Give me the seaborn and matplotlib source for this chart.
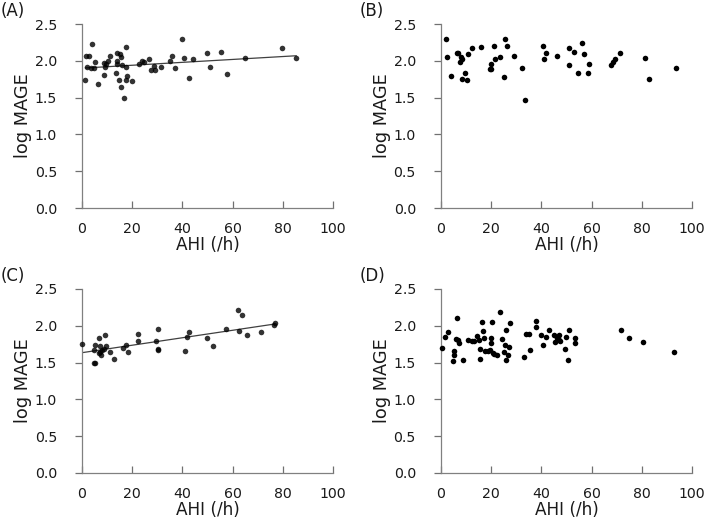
import numpy as np
import pandas as pd
import matplotlib
matplotlib.use("Agg")
import matplotlib.pyplot as plt
import seaborn as sns

# Panel A
a_ahi = [1.3, 1.7, 2.8, 2.0, 4.0, 3.4, 4.6, 5.3, 6.4, 8.6, 8.9, 9.3, 9.5, 10.2, 11.3,
         13.4, 13.8, 13.8, 13.8, 14.6, 15.2, 15.4, 15.8, 15.6, 16.8, 17.4, 17.4, 17.4,
         18.0, 19.9, 22.8, 24.1, 24.6, 26.8, 27.4, 28.6, 29.0, 31.4, 35.0, 35.9, 37.1,
         39.7, 40.7, 42.5, 44.1, 49.8, 51.0, 55.4, 57.9, 64.9, 79.5, 85.4]
a_mage = [1.74, 2.06, 2.07, 1.92, 2.23, 1.90, 1.90, 1.99, 1.68, 1.97, 1.81, 1.91, 1.95, 2.00, 2.06,
          1.84, 2.10, 2.00, 1.95, 1.74, 2.09, 2.05, 1.94, 1.65, 1.49, 2.19, 1.91, 1.74,
          1.80, 1.72, 1.96, 2.00, 1.98, 2.03, 1.88, 1.93, 1.88, 1.92, 2.00, 2.07, 1.90,
          2.30, 2.04, 1.76, 2.03, 2.10, 1.91, 2.12, 1.82, 2.04, 2.18, 2.04]

# Panel B
b_ahi = [2.0, 2.4, 4.1, 6.5, 6.9, 7.6, 7.8, 8.4, 8.2, 9.4, 10.4, 10.9, 12.5, 16.1, 19.7,
         19.9, 20.1, 21.0, 21.6, 23.4, 25.2, 25.6, 26.4, 29.2, 32.1, 33.5, 40.8, 41.0,
         41.7, 46.2, 51.1, 51.1, 53.0, 54.4, 56.0, 57.1, 58.4, 59.1, 67.9, 68.7, 69.3,
         71.2, 81.3, 82.9, 93.5]
b_mage = [2.29, 2.05, 1.80, 2.11, 2.10, 1.98, 2.05, 2.03, 1.75, 1.83, 1.74, 2.09, 2.17, 2.19, 1.89,
          1.89, 1.96, 2.20, 2.02, 2.05, 1.78, 2.29, 2.20, 2.06, 1.90, 1.47, 2.20, 2.02,
          2.10, 2.07, 2.18, 1.94, 2.12, 1.83, 2.24, 2.09, 1.83, 1.95, 1.94, 1.99, 2.02,
          2.10, 2.04, 1.75, 1.90]

# Panel C
c_ahi = [0.1, 4.6, 5.2, 4.8, 5.3, 6.8, 7.3, 7.2, 7.7, 6.9, 8.0, 8.7, 9.1, 9.7, 11.0,
         12.8, 16.2, 17.5, 18.4, 22.5, 22.5, 29.5, 30.2, 30.3, 30.2, 41.1, 42.0, 42.6,
         49.7, 52.0, 57.2, 62.3, 63.6, 62.6, 65.7, 71.5, 76.4, 76.7]
c_mage = [1.75, 1.67, 1.74, 1.50, 1.50, 1.83, 1.72, 1.65, 1.61, 1.63, 1.67, 1.68, 1.87, 1.73, 1.65,
          1.55, 1.70, 1.74, 1.64, 1.89, 1.80, 1.80, 1.96, 1.69, 1.67, 1.66, 1.85, 1.91,
          1.83, 1.72, 1.95, 2.21, 2.15, 1.93, 1.87, 1.91, 2.01, 2.04]

# Panel D
d_ahi = [0.5, 1.6, 2.7, 4.8, 5.0, 5.3, 6.4, 6.0, 6.6, 7.3, 8.8, 10.6, 12.4, 13.0, 14.2,
         15.0, 15.5, 15.4, 16.5, 16.9, 17.3, 17.7, 18.6, 19.5, 19.8, 20.0, 20.3, 20.7,
         21.3, 22.3, 23.4, 24.3, 25.0, 25.6, 25.9, 26.0, 26.7, 27.0, 27.6, 32.9, 34.0,
         34.9, 35.6, 37.7, 38.0, 39.8, 40.5, 41.7, 43.2, 44.9, 45.6, 46.1, 46.9, 47.0,
         47.6, 49.4, 49.7, 50.5, 51.1, 53.3, 53.3, 71.8, 74.9, 80.3, 92.7]
d_mage = [1.70, 1.85, 1.91, 1.52, 1.66, 1.61, 2.10, 1.82, 1.81, 1.77, 1.53, 1.81, 1.79, 1.80, 1.86,
          1.81, 1.68, 1.55, 2.05, 1.93, 1.83, 1.66, 1.66, 1.67, 1.76, 1.84, 2.05, 1.63,
          1.62, 1.61, 2.19, 1.82, 1.64, 1.74, 1.94, 1.53, 1.60, 1.71, 2.04, 1.57, 1.89,
          1.89, 1.67, 1.99, 2.06, 1.87, 1.74, 1.85, 1.94, 1.88, 1.78, 1.83, 1.87, 1.81,
          1.79, 1.68, 1.85, 1.53, 1.94, 1.84, 1.76, 1.94, 1.83, 1.78, 1.64]

panel_labels = ["(A)", "(B)", "(C)", "(D)"]
x_ticks = [0, 20, 40, 60, 80, 100]
y_ticks = [0.0, 0.5, 1.0, 1.5, 2.0, 2.5]
x_label = "AHI (/h)"
y_label = "log MAGE"

sns.set_theme(style="white")
plt.rcParams['font.family'] = ['DejaVu Sans']

fig = plt.figure(figsize=(7.06, 5.28), dpi=100)
W, H = 706, 528
def ax_at(left, top, right, bottom):
    return fig.add_axes([left / W, 1 - bottom / H, (right - left) / W, (bottom - top) / H])

axes = [ax_at(82, 24, 333, 208), ax_at(441, 24, 692, 208),
        ax_at(82, 289, 333, 473), ax_at(441, 289, 692, 473)]
data = [(a_ahi, a_mage, True), (b_ahi, b_mage, False), (c_ahi, c_mage, True), (d_ahi, d_mage, False)]
label_pos = [(1, 11), (360, 11), (1, 276), (360, 276)]

spine_col = "#808080"
txt_col = "#1a1a1a"
for ax, (x, y, fit), lab, (lx, ly) in zip(axes, data, panel_labels, label_pos):
    df = pd.DataFrame({"AHI": x, "MAGE": y})
    if fit:
        sns.regplot(data=df, x="AHI", y="MAGE", ax=ax, ci=None, truncate=True,
                    scatter_kws=dict(s=16, color="black", linewidths=0, clip_on=False, zorder=3),
                    line_kws=dict(color="#404040", lw=0.9))
    else:
        sns.scatterplot(data=df, x="AHI", y="MAGE", ax=ax, s=16, color="black",
                        linewidth=0, clip_on=False, zorder=3)
    ax.set_xlim(0, 100)
    ax.set_ylim(0, 2.5)
    ax.set_xticks(x_ticks)
    ax.set_yticks(y_ticks)
    ax.set_yticklabels([f"{v:.1f}" for v in y_ticks])
    ax.set_xlabel(x_label, fontsize=12.2, color=txt_col, labelpad=0)
    ax.set_ylabel(y_label, fontsize=12.8, color=txt_col, labelpad=2)
    ax.tick_params(axis="x", bottom=True, direction="in", length=5, width=0.9, color="#707070",
                   labelsize=10.2, labelcolor=txt_col, pad=10)
    ax.tick_params(axis="y", left=True, direction="out", length=5, width=0.9, color="#707070",
                   labelsize=10.2, labelcolor=txt_col, pad=13)
    for s in ["top", "right"]:
        ax.spines[s].set_visible(False)
    for s in ["left", "bottom"]:
        ax.spines[s].set_color(spine_col)
        ax.spines[s].set_linewidth(0.9)
    ax.grid(False)
    fig.text(lx / W, 1 - ly / H, lab, fontsize=12, color=txt_col, va="center", ha="left")

fig.savefig("out.png", dpi=100)
